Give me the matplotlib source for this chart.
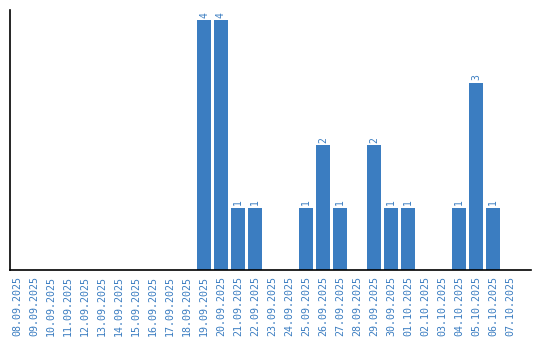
import numpy as np
from matplotlib import pyplot as plt

dates = ['08.09.2025', '09.09.2025', '10.09.2025', '11.09.2025', '12.09.2025',
         '13.09.2025', '14.09.2025', '15.09.2025', '16.09.2025', '17.09.2025',
         '18.09.2025', '19.09.2025', '20.09.2025', '21.09.2025', '22.09.2025',
         '23.09.2025', '24.09.2025', '25.09.2025', '26.09.2025', '27.09.2025',
         '28.09.2025', '29.09.2025', '30.09.2025', '01.10.2025', '02.10.2025',
         '03.10.2025', '04.10.2025', '05.10.2025', '06.10.2025', '07.10.2025']
counts = [0, 0, 0, 0, 0, 0, 0, 0, 0, 0,
          0, 4, 4, 1, 1, 0, 0, 1, 2, 1,
          0, 2, 1, 1, 0, 0, 1, 3, 1, 0]

blue = '#3b7dc1'
x = np.arange(len(dates))
w = 14 / 17

fig = plt.figure(figsize=(5.4, 3.4), dpi=100)
ax = fig.add_axes([10 / 540, 70 / 340, 521 / 540, 260 / 340])
bars = ax.bar(x, counts, width=w, color=blue)

for xi, c in zip(x, counts):
    if c > 0:
        ax.text(xi, c + 0.04, str(c), rotation=90, ha='center', va='bottom',
                color=blue, fontsize=7, family='DejaVu Sans Mono')

ax.set_xlim(-w / 2, -w / 2 + 521 / 17)
ax.set_ylim(0, 260 / 62.5)
ax.set_xticks(x)
ax.set_xticklabels(dates, rotation=90, color=blue, fontsize=7.2,
                   family='DejaVu Sans Mono')
ax.tick_params(axis='x', length=0, pad=4)
ax.set_yticks([])
ax.spines['top'].set_visible(False)
ax.spines['right'].set_visible(False)
ax.spines['left'].set_linewidth(1.2)
ax.spines['bottom'].set_linewidth(1.2)

fig.savefig('out.png', dpi=100)
